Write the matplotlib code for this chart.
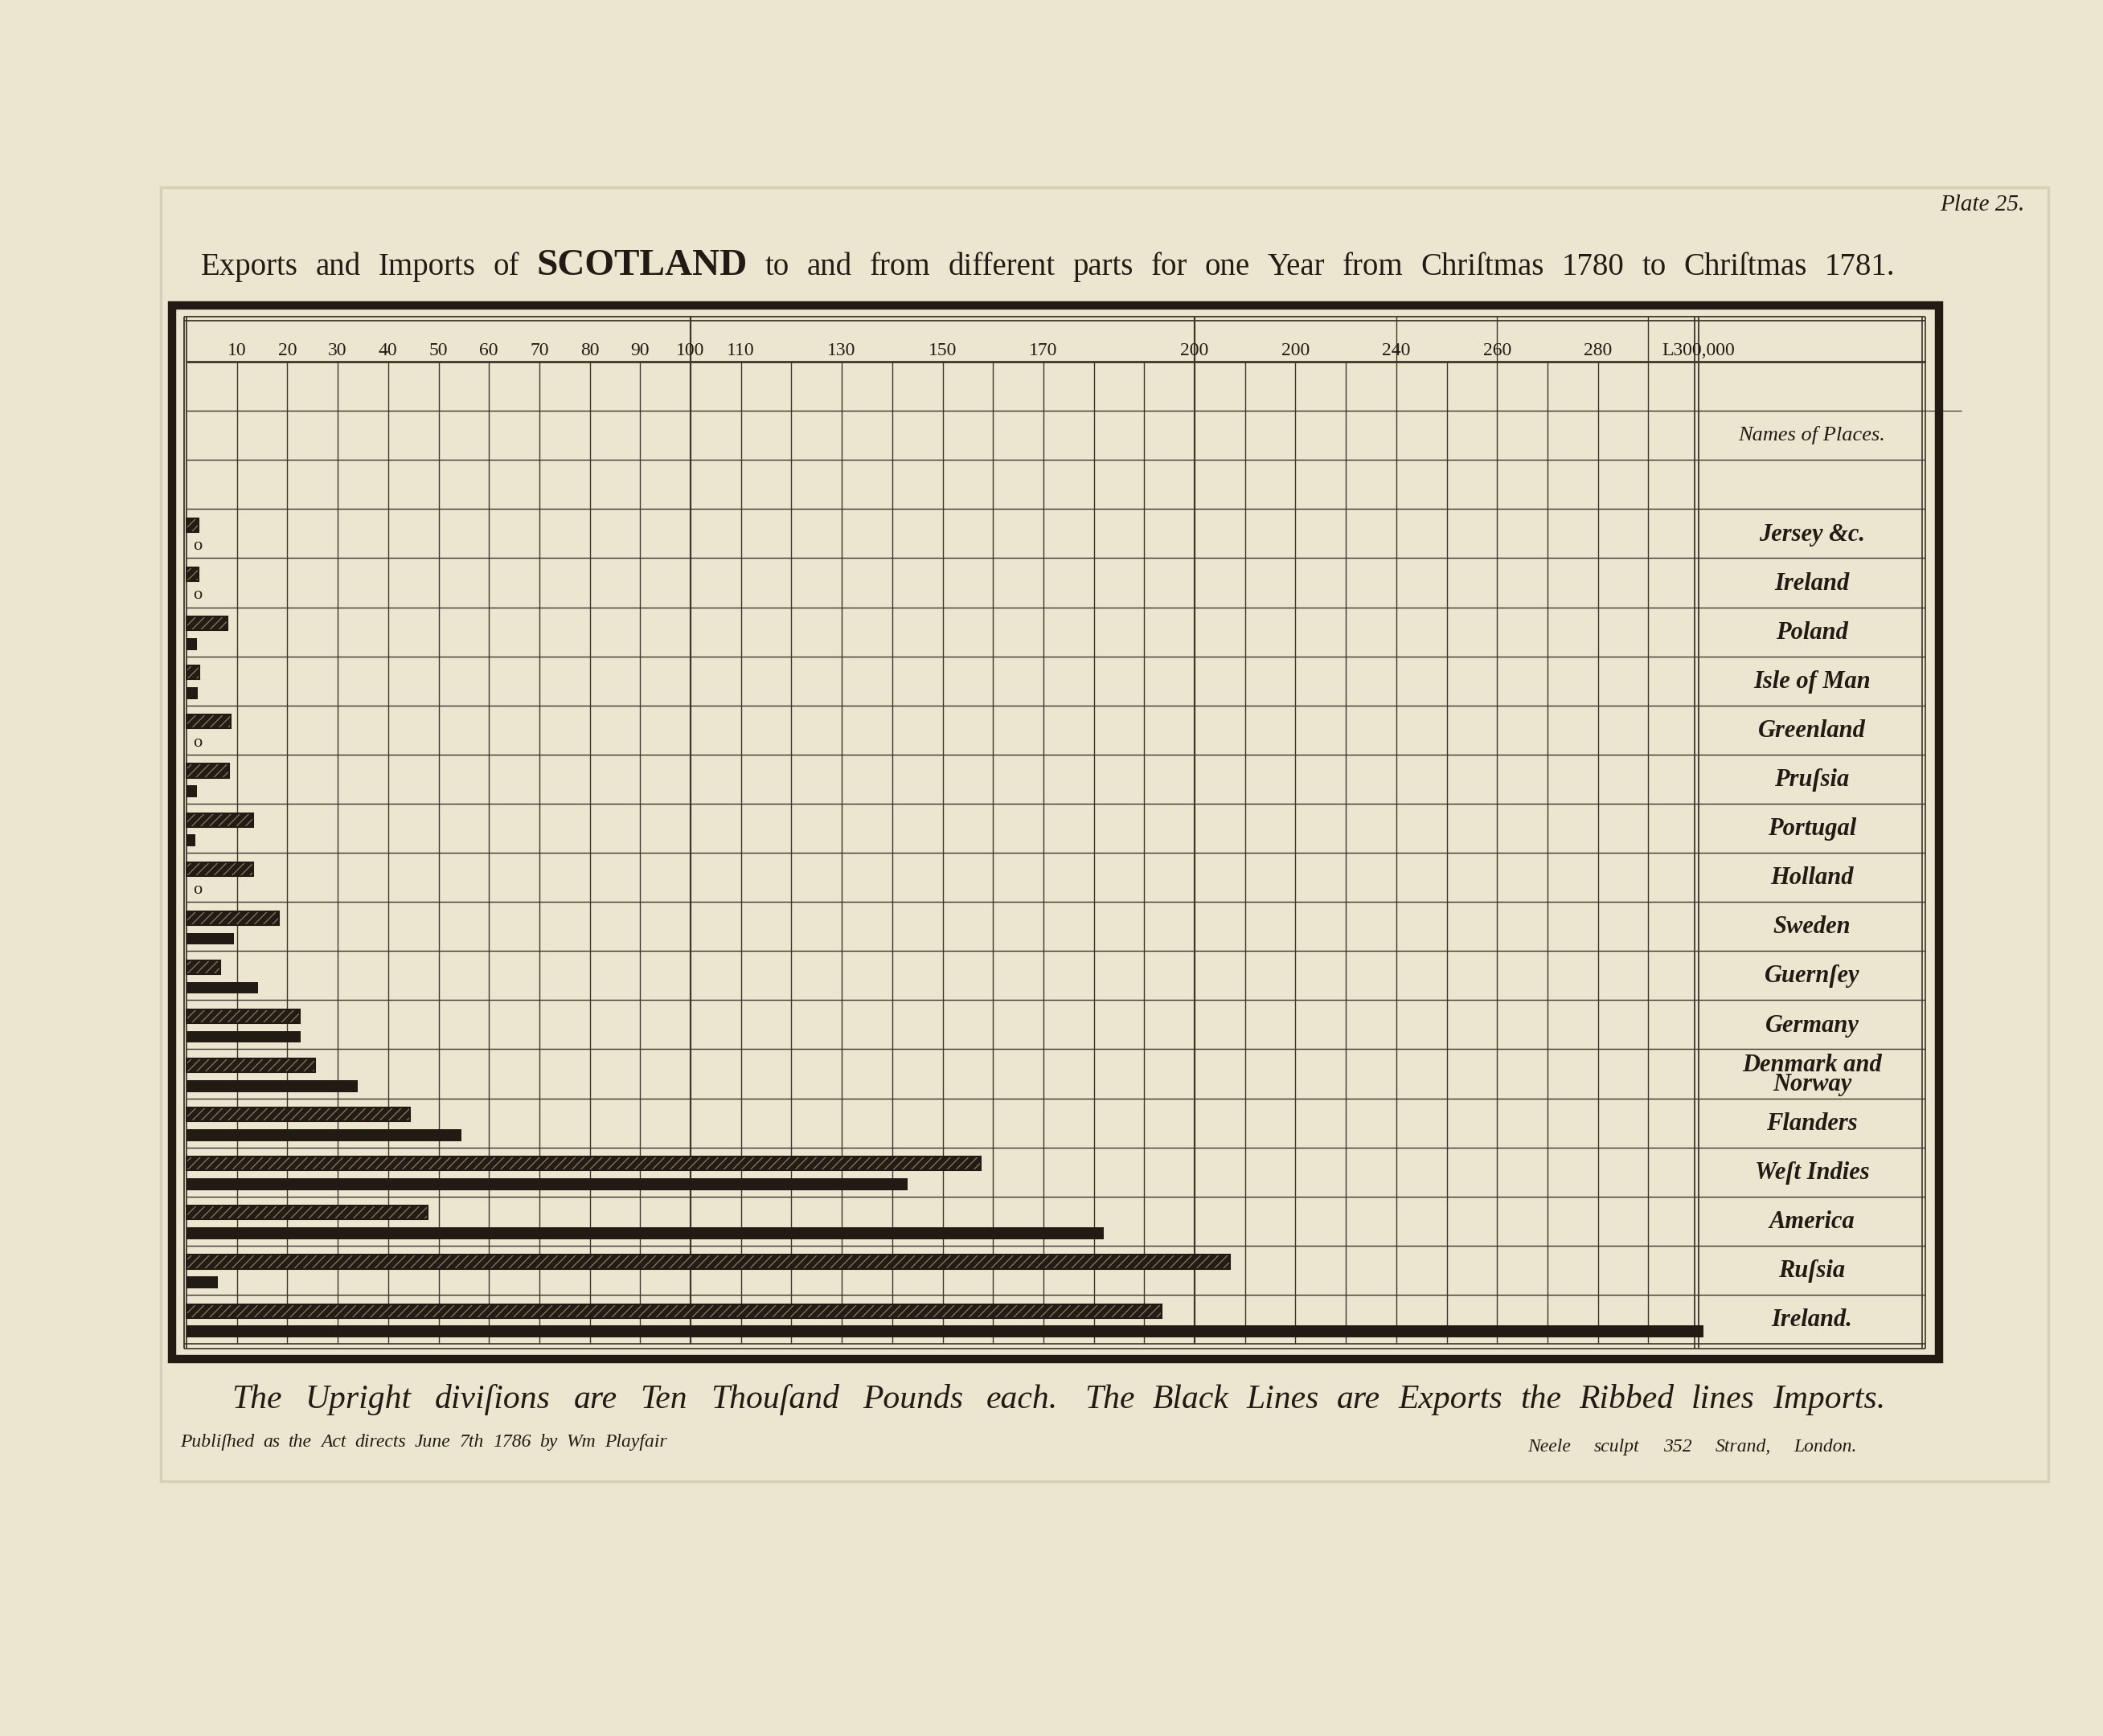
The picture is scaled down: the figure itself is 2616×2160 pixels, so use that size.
import numpy as np
import matplotlib
matplotlib.use("Agg")
import matplotlib.pyplot as plt
from matplotlib.transforms import IdentityTransform
from matplotlib.patches import Rectangle

# ---------------- data ----------------
places = ["Jersey &c.", "Ireland", "Poland", "Isle of Man", "Greenland",
          "Pruſsia", "Portugal", "Holland", "Sweden", "Guernſey", "Germany",
          "Denmark and\nNorway", "Flanders", "Weſt Indies", "America",
          "Ruſsia", "Ireland."]
# thousands of pounds
imports_k = [2.4, 2.4, 8.1, 2.5, 8.8, 8.4, 13.3, 13.2, 18.4, 6.7, 22.5,
             25.5, 44.4, 157.5, 47.8, 207.0, 193.5]
exports_k = [0, 0, 2.1, 2.2, 0, 2.0, 1.8, 0, 9.4, 14.2, 22.6,
             34.0, 54.6, 143.0, 182.0, 6.2, 301.0]
tick_values = [10, 20, 30, 40, 50, 60, 70, 80, 90, 100, 110, 130, 150, 170,
               200, 220, 240, 260, 280, 300]
tick_labels = ["10", "20", "30", "40", "50", "60", "70", "80", "90", "100",
               "110", "130", "150", "170", "200", "200", "240", "260", "280",
               "L300,000"]
grid_max, grid_step = 300, 10
tall_lines = [0, 100, 200, 240, 260, 290, 300]

title_a = "Exports and Imports of"
title_b = "SCOTLAND"
title_c = "to and from different parts for one Year from Chriſtmas 1780 to Chriſtmas 1781."
foot_a = "The Upright diviſions are Ten Thouſand Pounds each."
foot_b = "The Black Lines are Exports the Ribbed lines Imports."
publ = "Publiſhed as the Act directs June 7th 1786 by Wm Playfair"
engr = "Neele sculpt 352 Strand, London."
plate = "Plate 25."

# ---------------- style ----------------
W, H, DPI = 2616, 2160, 100
PAPER = "#ece6d1"
INK = "#211b13"
GRID = "#3d352a"
HATCHC = "#8a7b64"
SERIF = ["Liberation Serif", "DejaVu Serif"]
plt.rcParams["hatch.linewidth"] = 0.9

X0, XS = 232.0, 6.27   # pixel of £0 and pixels per £1000
Y0, YS = 450.0, 61.1   # pixel of first ruled line and pixels per row


def xd(px):
    return (px - X0) / XS


def yd(py):
    return (py - Y0) / YS


fig = plt.figure(figsize=(W / DPI, H / DPI), dpi=DPI, facecolor=PAPER)
ax = fig.add_axes([0, 0, 1, 1])
ax.set_facecolor(PAPER)
ax.set_xlim(xd(0), xd(W))
ax.set_ylim(yd(H), yd(0))
ax.axis("off")

n = len(places)
header_rows = 3
nrows = n + header_rows
rows = np.arange(n) + header_rows
name_right = xd(2395)
name_center = (grid_max + name_right) / 2

# plate mark
ax.add_patch(Rectangle((xd(200), yd(233)), xd(2548) - xd(200), yd(1843) - yd(233),
                       fill=False, ec="#d8cfb4", lw=2.5, zorder=0))

# ruled grid: horizontal lines
ax.hlines(np.arange(1, nrows), 0, name_right, color=GRID, lw=1.0, zorder=1)
ax.hlines([1], name_right, xd(2440), color=GRID, lw=0.9, zorder=1)
ax.hlines([0], 0, name_right, color=GRID, lw=2.0, zorder=1)
ax.hlines([yd(394), yd(399)], xd(229), name_right, color=GRID, lw=1.3, zorder=1)
ax.hlines([nrows, yd(1678)], xd(229), name_right, color=GRID, lw=1.2, zorder=1)

# vertical lines
xs = np.arange(grid_step, grid_max, grid_step)
short = [v for v in xs if v not in tall_lines]
ax.vlines(short, 0, nrows, color=GRID, lw=1.0, zorder=1)
ax.vlines([v for v in tall_lines if v not in (0, grid_max, 100, 200)],
          yd(394), nrows, color=GRID, lw=1.0, zorder=1)
ax.vlines([100, 200], yd(394), nrows, color=GRID, lw=1.6, zorder=1)
ax.vlines([0, xd(229)], yd(394), yd(1678), color=GRID, lw=1.3, zorder=1)
ax.vlines([grid_max, grid_max - 0.8], yd(394), yd(1678), color=GRID, lw=1.3, zorder=1)
ax.vlines([name_right, xd(2391)], yd(394), yd(1678), color=GRID, lw=1.2, zorder=1)

# heavy border
ax.add_patch(Rectangle((xd(214), yd(380)), xd(2412) - xd(214), yd(1691) - yd(380),
                       fill=False, ec=INK, lw=7.5, zorder=5, joinstyle="miter"))

# scale labels
for v, lab in zip(tick_values, tick_labels):
    ax.text(v, yd(436), lab, ha="center", va="center", fontsize=17,
            family=SERIF, color=INK, zorder=6)

# bars: ribbed = imports (upper), black = exports (lower)
ax.barh(rows + 0.33, imports_k, height=0.28, left=0, color="#231c14",
        edgecolor=HATCHC, hatch="///", linewidth=0, zorder=3)
ax.barh(rows + 0.33, imports_k, height=0.28, left=0, fill=False,
        edgecolor=INK, linewidth=1.5, zorder=4)
ax.barh(rows + 0.75, exports_k, height=0.24, left=0, color=INK, zorder=3)
for r, e in zip(rows, exports_k):
    if e == 0:
        ax.annotate("o", (0, r + 0.76), xytext=(9.5, 0), textcoords="offset points",
                    ha="center", va="center", fontsize=16, family=SERIF,
                    color=INK, zorder=6)

# place names
ax.text(name_center, 1.5, "Names of Places.", ha="center", va="center",
        fontsize=19, family=SERIF, style="italic", color=INK, zorder=6)
for r, name in zip(rows, places):
    ax.text(name_center, r + 0.52, name, ha="center", va="center",
            fontsize=22, family=SERIF, style="italic", weight="bold",
            color=INK, linespacing=0.78, zorder=6)

# ---------------- justified text lines ----------------
renderer = fig.canvas.get_renderer()


def justify(pieces, x0, x1, ybase):
    texts = []
    for s, props in pieces:
        for w in s.split(" "):
            t = fig.text(0, 0, w, transform=IdentityTransform(), ha="left",
                         va="baseline", color=INK, **props)
            texts.append(t)
    widths = [t.get_window_extent(renderer).width for t in texts]
    gap = (x1 - x0 - sum(widths)) / max(len(texts) - 1, 1)
    x = x0
    for t, w in zip(texts, widths):
        t.set_position((x, H - ybase))
        x += w + gap


tprops = dict(fontsize=28, family=SERIF)
justify([(title_a, tprops),
         (title_b, dict(fontsize=34, family=SERIF, weight="bold")),
         (title_c, tprops)], 250, 2357, 342)
fprops = dict(fontsize=30, family=SERIF, style="italic")
justify([(foot_a, fprops)], 288, 1316, 1752)
justify([(foot_b, fprops)], 1349, 2345, 1752)
sprops = dict(fontsize=17, family=SERIF, style="italic")
justify([(publ, sprops)], 224, 830, 1800)
justify([(engr, sprops)], 1900, 2310, 1806)
fig.text(2413, H - 262, plate, transform=IdentityTransform(), ha="left",
         va="baseline", fontsize=21, family=SERIF, style="italic", color=INK)

fig.savefig("out.png", dpi=DPI, facecolor=PAPER)
